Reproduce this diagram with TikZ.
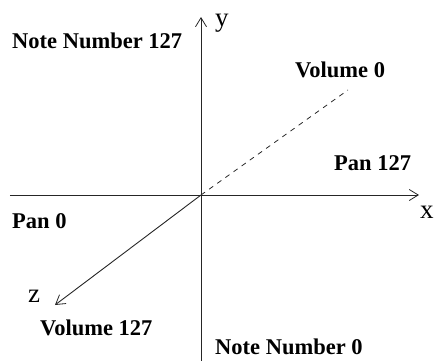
\documentclass[tikz,border=0pt]{standalone}
\usepackage{fontspec}
\setmainfont{Liberation Serif}
\usetikzlibrary{arrows.meta}
\begin{document}
\begin{tikzpicture}[x=1pt,y=1pt,
  axis/.style={line width=0.9pt,draw=black!85,-{Straight Barb[length=9pt,width=11pt,line width=0.8pt]}},
  lbl/.style={anchor=base west,inner sep=0pt,font=\fontsize{22.5}{27}\selectfont\bfseries},
  axl/.style={anchor=base west,inner sep=0pt,font=\fontsize{27}{30}\selectfont}]
\useasboundingbox (-201,-165) rectangle (234,195);
\coordinate (O) at (0,0);
\coordinate (ybot) at (0,-166);
\coordinate (ytop) at (0,178);
\coordinate (xleft) at (-191,0);
\coordinate (xright) at (218,0);
\coordinate (zend) at (-146,-110);
\coordinate (dend) at (147,105);
\draw[axis] (ybot) -- (ytop);
\draw[axis] (xleft) -- (xright);
\draw[axis] (O) -- (zend);
\draw[line width=0.8pt,draw=black!85,dash pattern=on 5pt off 5pt] (O) -- (dend);
\node[lbl] (n127) at (-189,147) {Note Number 127};
\node[lbl] (v0) at (94,118) {Volume 0};
\node[lbl] (p127) at (133,25) {Pan 127};
\node[lbl] (p0) at (-189,-33) {Pan 0};
\node[lbl] (v127) at (-161,-140) {Volume 127};
\node[lbl] (n0) at (14,-159) {Note Number 0};
\node[axl] (ly) at (14,169) {y};
\node[axl] (lx) at (219,-23) {x};
\node[axl] (lz) at (-173,-107) {z};
\end{tikzpicture}
\end{document}
